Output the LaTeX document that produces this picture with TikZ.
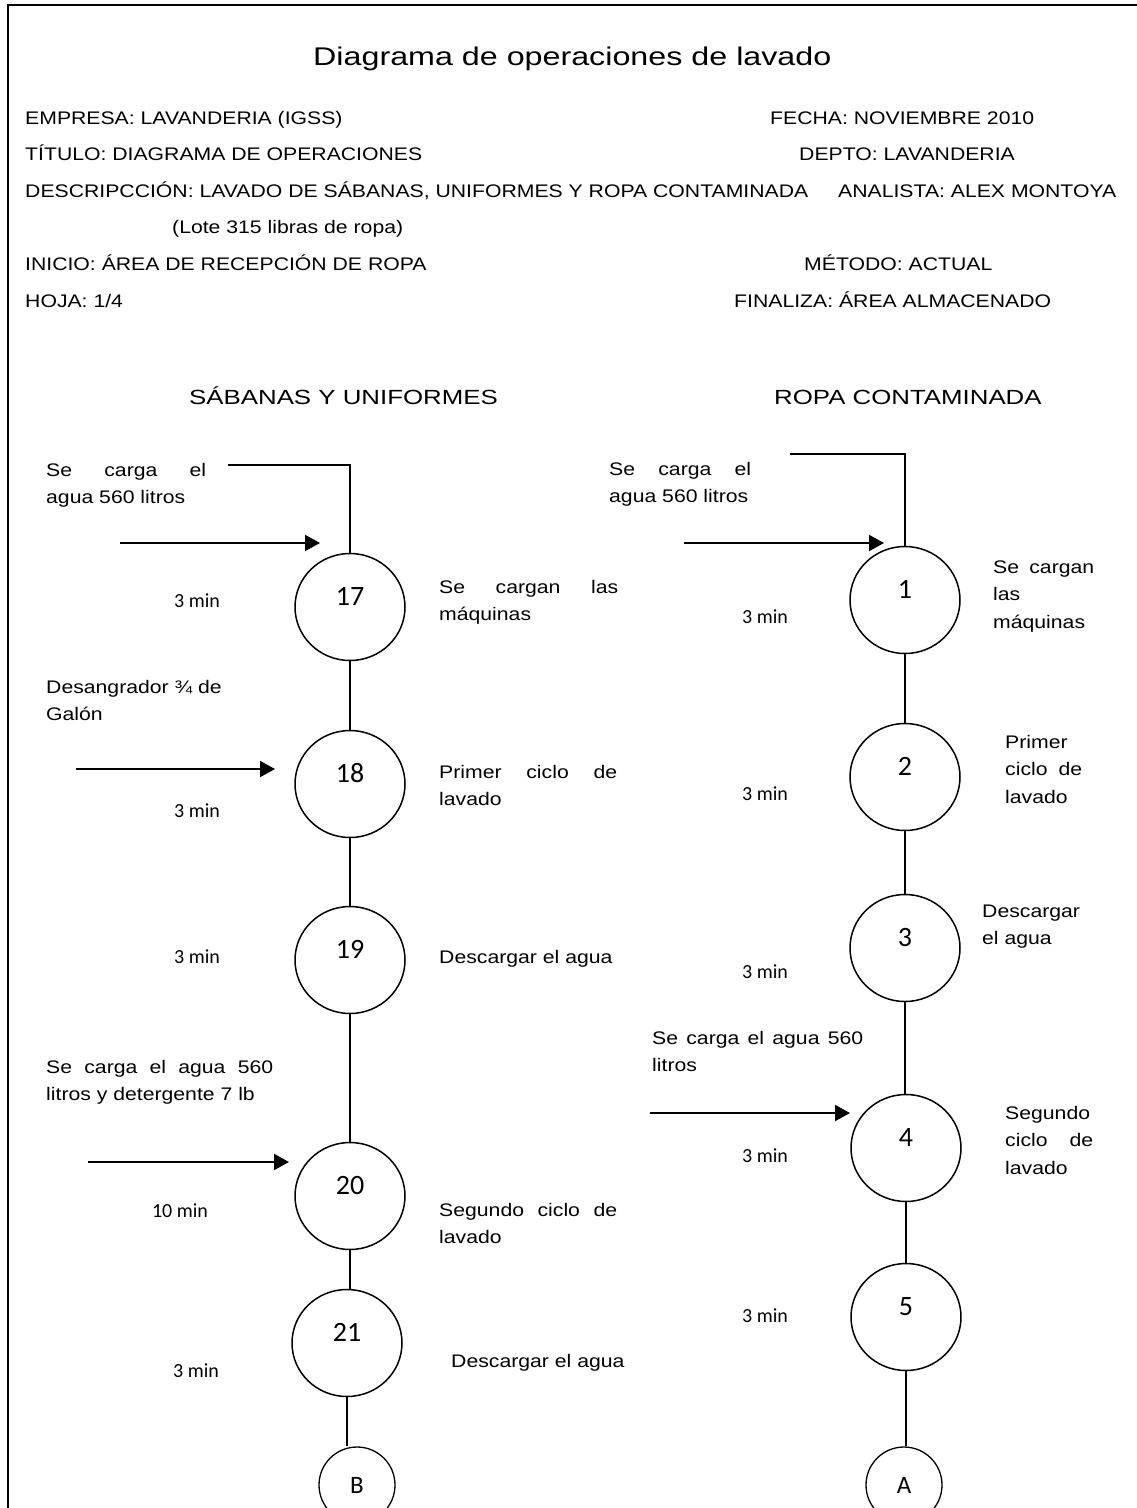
\documentclass[tikz,border=0pt]{standalone}
\usepackage{fontspec}
\setmainfont{Liberation Sans}[FakeStretch=1.165]
\newfontfamily\headfont{Liberation Sans}[FakeStretch=1.26]
\newfontfamily\calfont{Carlito}
\usetikzlibrary{arrows.meta,shapes.geometric}

% a block of lines, baseline on the first line
\newcommand\para[1]{\vtop{\baselineskip=27.5pt #1}}
% one line spread to a given width
\newcommand\jline[2]{\hbox{\makebox[#1][s]{#2}}}
\newcommand\nline[1]{\hbox{#1}}

\tikzset{
  txt/.style={anchor=base west, inner sep=0pt, font=\fontsize{18.2}{22}\selectfont},
  ttl/.style={anchor=base west, inner sep=0pt, font=\headfont\fontsize{25.6}{30}\selectfont},
  sec/.style={anchor=base west, inner sep=0pt, font=\headfont\fontsize{20.5}{24}\selectfont},
  tmin/.style={anchor=base, inner sep=0pt, font=\calfont\fontsize{20}{24}\selectfont},
  op/.style={draw, line width=1.5pt, ellipse, minimum width=110pt, minimum height=107pt,
    inner sep=0pt, font=\calfont\fontsize{28}{32}\selectfont},
  conn/.style={draw, line width=1.3pt, circle, minimum size=76pt, inner sep=0pt,
    font=\calfont\fontsize{25}{28}\selectfont},
  link/.style={line width=1.3pt},
  feed/.style={line width=2pt, -{Triangle[length=15pt,width=16pt]}},
  frame/.style={line width=2pt}
}

\begin{document}
\begin{tikzpicture}[x=1pt,y=-1pt]
\useasboundingbox (0,0) rectangle (1136,1508);

% page frame
\draw[frame] (8,1510) -- (8,5) -- (1140,5);

% heading block
\node[ttl] (title) at (313,65) {Diagrama de operaciones de lavado};
\node[txt] (empresa) at (25,124) {EMPRESA: LAVANDERIA (IGSS)};
\node[txt] (fecha) at (770,124) {FECHA: NOVIEMBRE 2010};
\node[txt] (titulo) at (25,160) {TÍTULO: DIAGRAMA DE OPERACIONES};
\node[txt] (depto) at (799,160) {DEPTO: LAVANDERIA};
\node[txt] (descr) at (25,197) {DESCRIPCCIÓN: LAVADO DE SÁBANAS, UNIFORMES Y ROPA CONTAMINADA};
\node[txt] (analista) at (838,197) {ANALISTA: ALEX MONTOYA};
\node[txt] (lote) at (172,233) {(Lote 315 libras de ropa)};
\node[txt] (inicio) at (25,270) {INICIO: ÁREA DE RECEPCIÓN DE ROPA};
\node[txt] (metodo) at (804,270) {MÉTODO: ACTUAL};
\node[txt] (hoja) at (25,307) {HOJA: 1/4};
\node[txt] (finaliza) at (734,307) {FINALIZA: ÁREA ALMACENADO};

% column headings
\node[sec] (secL) at (189,404) {SÁBANAS Y UNIFORMES};
\node[sec] (secR) at (774,404) {ROPA CONTAMINADA};

% ---------- left column: sheets and uniforms ----------
\node[op] (c17) at (350,607) {\raisebox{1.5pt}[0pt][0pt]{17}};
\node[op] (c18) at (350,784) {\raisebox{1.5pt}[0pt][0pt]{18}};
\node[op] (c19) at (350,960) {\raisebox{1.5pt}[0pt][0pt]{19}};
\node[op] (c20) at (350,1196) {\raisebox{1.5pt}[0pt][0pt]{20}};
\node[op] (c21) at (347,1343) {\raisebox{1.5pt}[0pt][0pt]{21}};
\node[conn] (cB) at (357,1485) {B};

\coordinate (w17) at (228,465);
\draw[link] (w17) -| (c17.north);
\draw[link] (c17.south) -- (c18.north);
\draw[link] (c18.south) -- (c19.north);
\draw[link] (c19.south) -- (c20.north);
\draw[link] (c20.south) -- (c20.south |- c21.north);
\draw[link] (c21.south) -- (c21.south |- cB.north);

\coordinate (a17s) at (120,543); \coordinate (a17e) at (320,543);
\coordinate (a18s) at (76,769);  \coordinate (a18e) at (275,769);
\coordinate (a20s) at (88,1162); \coordinate (a20e) at (289,1162);
\draw[feed] (a17s) -- (a17e);
\draw[feed] (a18s) -- (a18e);
\draw[feed] (a20s) -- (a20e);

\node[txt] (in17) at (46,476) {\para{\jline{160pt}{Se carga el}\nline{agua 560 litros}}};
\node[txt] (in18) at (46,693) {\para{\nline{Desangrador ¾ de}\nline{Galón}}};
\node[txt] (in20) at (46,1073) {\para{\jline{227pt}{Se carga el agua 560}\nline{litros y detergente 7 lb}}};

\node[txt] (d17) at (439,593) {\para{\jline{179pt}{Se cargan las}\nline{máquinas}}};
\node[txt] (d18) at (439,778) {\para{\jline{178pt}{Primer ciclo de}\nline{lavado}}};
\node[txt] (d19) at (439,963) {Descargar el agua};
\node[txt] (d20) at (439,1216) {\para{\jline{178pt}{Segundo ciclo de}\nline{lavado}}};
\node[txt] (d21) at (451,1367) {Descargar el agua};

\node[tmin] (m17) at (197,607) {3 min};
\node[tmin] (m18) at (197,817) {3 min};
\node[tmin] (m19) at (197,963) {3 min};
\node[tmin] (m20) at (180,1217) {10 min};
\node[tmin] (m21) at (196,1377) {3 min};

% ---------- right column: contaminated clothing ----------
\node[op] (c1) at (905,600) {\raisebox{1.5pt}[0pt][0pt]{1}};
\node[op] (c2) at (905,777) {\raisebox{1.5pt}[0pt][0pt]{2}};
\node[op] (c3) at (905,948) {\raisebox{1.5pt}[0pt][0pt]{3}};
\node[op] (c4) at (906,1148) {\raisebox{1.5pt}[0pt][0pt]{4}};
\node[op] (c5) at (906,1317) {\raisebox{1.5pt}[0pt][0pt]{5}};
\node[conn] (cA) at (904,1485) {A};

\coordinate (w1) at (790,454);
\draw[link] (w1) -| (c1.north);
\draw[link] (c1.south) -- (c2.north);
\draw[link] (c2.south) -- (c3.north);
\draw[link] (c3.south) -- (c3.south |- c4.north);
\draw[link] (c4.south) -- (c5.north);
\draw[link] (c5.south) -- (c5.south |- cA.north);

\coordinate (a1s) at (684,543);  \coordinate (a1e) at (884,543);
\coordinate (a4s) at (650,1113); \coordinate (a4e) at (850,1113);
\draw[feed] (a1s) -- (a1e);
\draw[feed] (a4s) -- (a4e);

\node[txt] (in1) at (609,475) {\para{\jline{142pt}{Se carga el}\nline{agua 560 litros}}};
\node[txt] (in4) at (652,1044) {\para{\jline{211pt}{Se carga el agua 560}\nline{litros}}};

\node[txt] (d1) at (993,573) {\para{\jline{101pt}{Se cargan}\nline{las}\nline{máquinas}}};
\node[txt] (d2) at (1005,748) {\para{\nline{Primer}\jline{77pt}{ciclo de}\nline{lavado}}};
\node[txt] (d3) at (982,917) {\para{\nline{Descargar}\nline{el agua}}};
\node[txt] (d4) at (1005,1119) {\para{\nline{Segundo}\jline{88pt}{ciclo de}\nline{lavado}}};

\node[tmin] (m1) at (765,623) {3 min};
\node[tmin] (m2) at (765,800) {3 min};
\node[tmin] (m3) at (765,978) {3 min};
\node[tmin] (m4) at (765,1162) {3 min};
\node[tmin] (m5) at (765,1322) {3 min};
\end{tikzpicture}
\end{document}
